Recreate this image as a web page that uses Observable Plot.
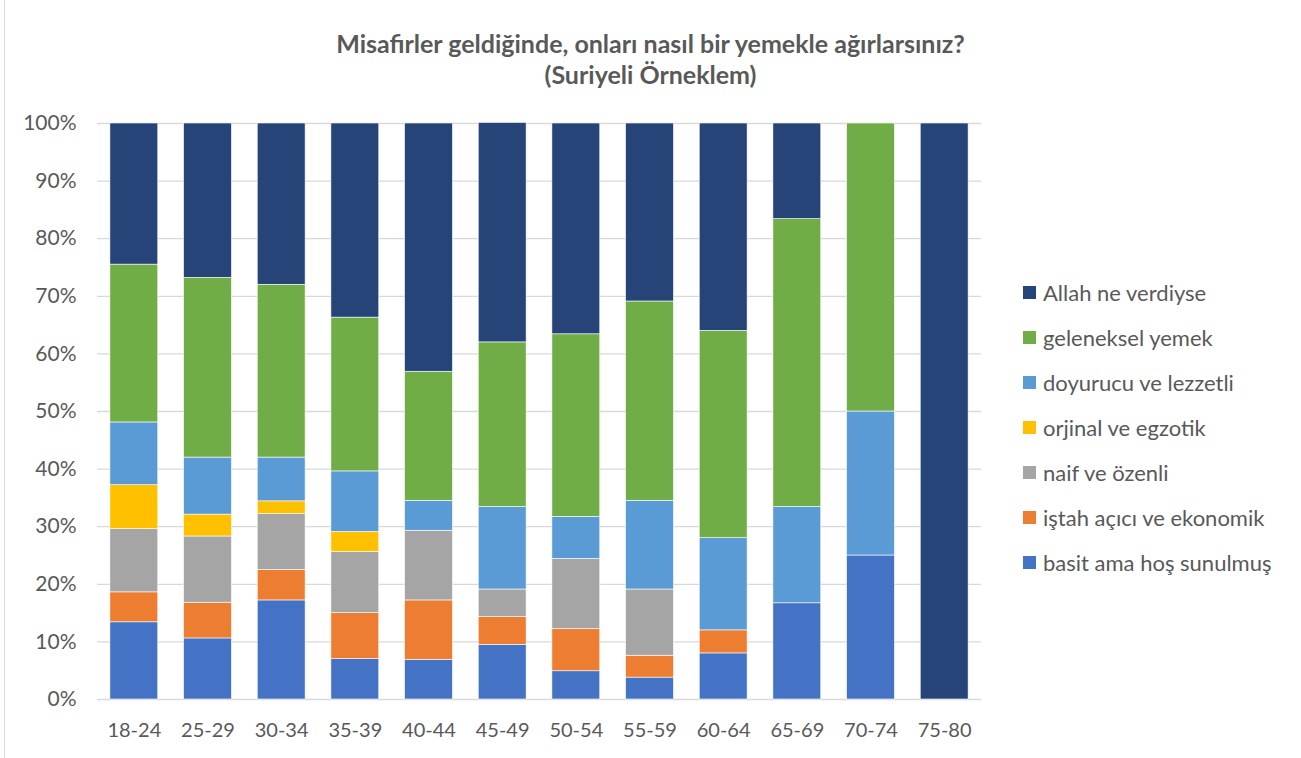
<!DOCTYPE html>
<html>
<head>
<meta charset="utf-8">
<script src="https://cdn.jsdelivr.net/npm/d3@7"></script>
<script src="https://cdn.jsdelivr.net/npm/@observablehq/plot@0.6"></script>
<style>
  html, body { margin: 0; padding: 0; background: #fff; }
  #wrap { position: relative; width: 1301px; height: 758px; overflow: hidden; font-family: Lato, "Open Sans", sans-serif; }
  #frame { position: absolute; left: 4px; top: -2px; width: 1300px; height: 770px; border: 1px solid #d9d9d9; box-sizing: border-box; }
  #title { position: absolute; left: 0; top: 28px; width: 1301px; text-align: center; color: #595959; font-weight: bold; font-size: 25px; line-height: 31px; }
  #legend { position: absolute; left: 1023px; top: 270px; color: #595959; font-size: 22px; }
  .item { height: 45px; display: flex; align-items: center; }
  .sw { width: 13px; height: 13px; margin-right: 7px; }
  #chart { position: absolute; left: 0; top: 0; }
</style>
</head>
<body>
<div id="wrap">
  <div id="frame"></div>
  <div id="chart"></div>
  <div id="title">Misafirler geldiğinde, onları nasıl bir yemekle ağırlarsınız?<br>(Suriyeli Örneklem)</div>
  <div id="legend"></div>
</div>
<script>
const categories = ["18-24","25-29","30-34","35-39","40-44","45-49","50-54","55-59","60-64","65-69","70-74","75-80"];
const seriesNames = ["basit ama hoş sunulmuş","iştah açıcı ve ekonomik","naif ve özenli","orjinal ve egzotik","doyurucu ve lezzetli","geleneksel yemek","Allah ne verdiyse"];
const seriesColors = ["#4472C4","#ED7D31","#A5A5A5","#FFC000","#5B9BD5","#70AD47","#264478"];
// percentages per age group
const basit      = [13.4, 10.6, 17.2,  7.0,  6.9,  9.5,  4.9,  3.8,  8.0, 16.7, 25.0,   0];
const istah      = [ 5.2,  6.2,  5.3,  8.0, 10.3,  4.8,  7.3,  3.8,  4.0,  0,    0,     0];
const naif       = [11.0, 11.5,  9.7, 10.6, 12.1,  4.8, 12.2, 11.5,  0,    0,    0,     0];
const orjinal    = [ 7.6,  3.8,  2.2,  3.5,  0,    0,    0,    0,    0,    0,    0,     0];
const doyurucu   = [10.9,  9.9,  7.6, 10.5,  5.2, 14.3,  7.3, 15.4, 16.0, 16.7, 25.0,   0];
const geleneksel = [27.4, 31.2, 30.0, 26.7, 22.4, 28.6, 31.7, 34.6, 36.0, 50.0, 50.0,   0];
const allah      = [24.5, 26.8, 28.0, 33.7, 43.1, 38.1, 36.6, 30.9, 36.0, 16.6,  0,   100];
const yTicks = [0,0.1,0.2,0.3,0.4,0.5,0.6,0.7,0.8,0.9,1.0];

const seriesValues = [basit, istah, naif, orjinal, doyurucu, geleneksel, allah];
const rows = [];
seriesNames.forEach((s, i) => {
  categories.forEach((c, j) => {
    rows.push({age: c, series: s, value: seriesValues[i][j] / 100});
  });
});

const chart = Plot.plot({
  width: 1301,
  height: 758,
  marginLeft: 97,
  marginRight: 320,
  marginTop: 123,
  marginBottom: 59,
  style: {fontFamily: "Lato, 'Open Sans', sans-serif", fontSize: "20px", color: "#595959", background: "transparent"},
  x: {domain: categories, paddingInner: 0.35, paddingOuter: 0.175, round: false, label: null},
  y: {domain: [0, 1], label: null},
  color: {domain: seriesNames, range: seriesColors},
  marks: [
    Plot.gridY(yTicks, {stroke: "#d9d9d9", strokeOpacity: 1, strokeWidth: 1.3}),
    Plot.barY(rows, {x: "age", y: "value", fill: "series", stroke: "#ffffff", strokeWidth: 0.6, order: seriesNames}),
    Plot.axisX({tickSize: 0, tickPadding: 23, fill: "#595959", fontSize: 20}),
    Plot.axisY(yTicks, {tickSize: 0, tickPadding: 21, tickFormat: d3.format(".0%"), fill: "#595959", fontSize: 21})
  ]
});
document.getElementById("chart").appendChild(chart);

const legend = document.getElementById("legend");
for (let i = seriesNames.length - 1; i >= 0; i--) {
  const it = document.createElement("div");
  it.className = "item";
  const sw = document.createElement("div");
  sw.className = "sw";
  sw.style.background = seriesColors[i];
  const tx = document.createElement("span");
  tx.textContent = seriesNames[i];
  it.appendChild(sw); it.appendChild(tx);
  legend.appendChild(it);
}
</script>
</body>
</html>
